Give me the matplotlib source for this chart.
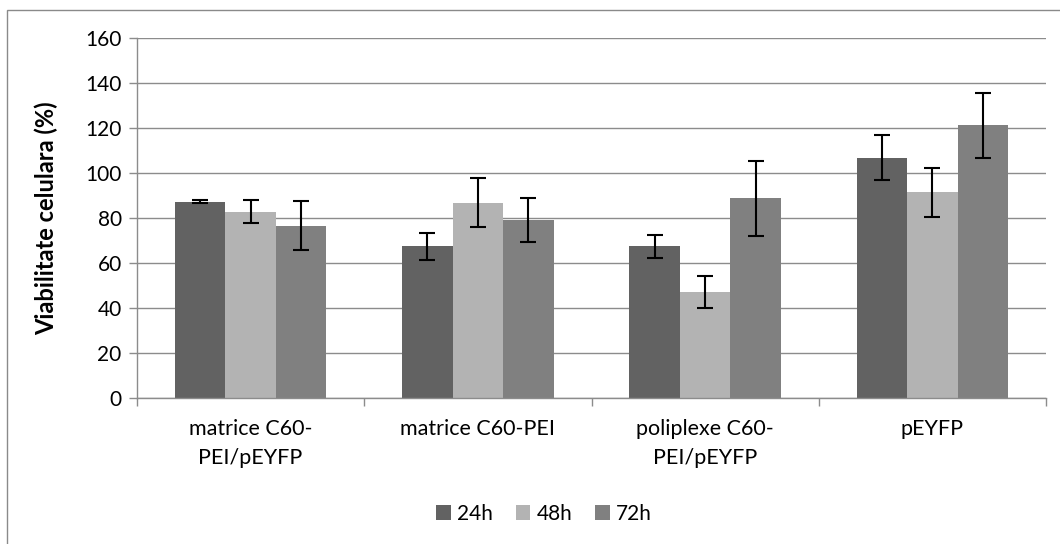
import matplotlib
matplotlib.use("Agg")
import matplotlib.pyplot as plt
import numpy as np
from matplotlib.patches import Rectangle

plt.rcParams['font.family'] = ['Lato', 'DejaVu Sans']

categories = ["matrice C60-\nPEI/pEYFP", "matrice C60-PEI", "poliplexe C60-\nPEI/pEYFP", "pEYFP"]
series_names = ["24h", "48h", "72h"]
values_24h = [87.2, 67.4, 67.4, 106.7]
values_48h = [82.8, 86.8, 47.1, 91.4]
values_72h = [76.6, 79.1, 88.7, 121.2]
err_24h = [0.7, 6.0, 5.0, 10.0]
err_48h = [5.2, 11.0, 7.1, 10.8]
err_72h = [10.9, 9.6, 16.7, 14.4]
y_ticks = [0, 20, 40, 60, 80, 100, 120, 140, 160]

colors = ["#626262", "#b3b3b3", "#808080"]
grid_color = "#8c8c8c"

fig = plt.figure(figsize=(10.6, 5.44), dpi=100)
# outer chart frame
fig.patches.append(Rectangle((7 / 1060, -0.05), 1.1, 1 - 10 / 544 + 0.05,
                             transform=fig.transFigure, fill=False,
                             edgecolor="#8a8a8a", linewidth=1.0))

ax = fig.add_axes([137 / 1060, 1 - 398 / 544, (1046 - 137) / 1060, (398 - 38) / 544])

x = np.arange(len(categories))
width = 1 / 4.5
all_vals = [values_24h, values_48h, values_72h]
all_errs = [err_24h, err_48h, err_72h]
for i, (vals, errs) in enumerate(zip(all_vals, all_errs)):
    pos = x + (i - 1) * width
    ax.bar(pos, vals, width, color=colors[i], label=series_names[i], zorder=2, linewidth=0)
    ax.errorbar(pos, vals, yerr=errs, fmt="none", ecolor="black", elinewidth=1.5,
                capsize=5.5, capthick=1.5, zorder=3)

ax.set_xlim(-0.5, len(categories) - 0.5)
ax.set_ylim(0, 160)
ax.set_yticks(y_ticks)
ax.set_yticklabels([str(t) for t in y_ticks], fontsize=15)
ax.yaxis.grid(True, color=grid_color, linewidth=1.0, zorder=0)
ax.set_axisbelow(True)

ax.set_xticks(x)
ax.set_xticklabels(categories, fontsize=15.5, linespacing=1.55)
ax.tick_params(axis="x", length=0, pad=15)
ax.set_xticks(np.arange(-0.5, len(categories)), minor=True)
ax.tick_params(axis="x", which="minor", length=6, color=grid_color, width=1)
ax.tick_params(axis="y", length=6, color=grid_color, width=1, pad=5)

for s in ["top", "right"]:
    ax.spines[s].set_visible(False)
for s in ["left", "bottom"]:
    ax.spines[s].set_color(grid_color)
    ax.spines[s].set_linewidth(1.0)

ax.set_ylabel("Viabilitate celulara (%)", fontsize=17, fontweight="bold")
ax.yaxis.set_label_coords((58 - 137) / 909, 0.5)

leg = fig.legend(loc="center", bbox_to_anchor=(544 / 1060, 1 - 514 / 544), ncol=3,
                 frameon=False, fontsize=15, handlelength=0.7, handleheight=0.7,
                 handletextpad=0.3, columnspacing=1.1)

fig.savefig("out.png", dpi=100)
